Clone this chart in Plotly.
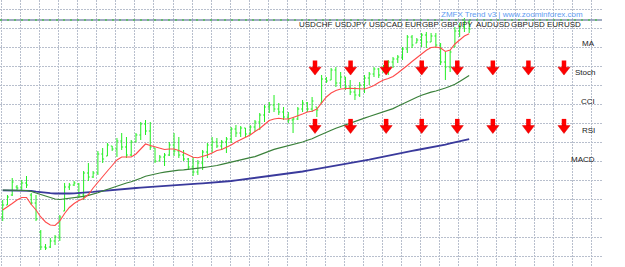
import numpy as np
import plotly.graph_objects as go

# ---------------- data (prices in points, price = BASE + v * POINT) ----------------
BASE = 1.2000
POINT = 0.0001

BAR_HIGH = [67,72,89,82,87,91,74,72,37,23,
            29,32,52,84,84,86,84,96,104,96,
            116,119,124,121,129,134,130,127,134,145,
            147,145,119,112,114,125,134,130,117,109,
            110,107,117,124,130,129,127,130,140,142,
            141,139,142,147,154,162,165,172,164,160,
            155,150,160,167,165,170,160,192,190,199,
            200,195,190,187,180,185,192,195,200,199,
            202,207,210,212,220,232,232,229,234,235,
            234,234,224,215,217,240,244,249,247]
BAR_LOW = [46,62,71,77,77,79,62,46,17,17,
           19,22,26,56,77,81,69,67,86,89,
           92,104,111,116,110,117,109,111,125,127,
           132,117,104,106,101,111,111,109,106,97,
           91,92,97,109,114,119,117,114,124,130,
           130,130,132,135,137,145,154,155,152,147,
           144,134,147,155,155,155,150,164,184,187,
           180,179,177,172,167,170,174,182,190,189,
           195,192,199,204,207,214,219,224,220,219,
           225,220,202,187,195,220,230,235,234]
BAR_OPEN = [50,62,72,80,79,84,72,64,35,20,
            20,26,30,56,80,82,83,72,94,90,
            94,113,111,121,118,126,120,112,125,132,
            143,136,119,106,110,112,122,116,112,108,
            100,95,104,115,122,125,121,125,128,138,
            134,139,133,140,145,152,160,162,158,155,
            150,147,148,158,164,158,160,164,188,187,
            197,184,190,180,175,172,182,189,193,198,
            195,200,205,208,210,218,230,224,227,232,
            225,231,222,205,200,220,236,240,246]
BAR_CLOSE = [62,70,85,79,84,82,64,48,20,19,
             26,30,50,80,82,84,72,94,90,94,
             113,108,122,118,126,120,112,125,132,143,
             136,120,106,110,112,122,116,112,108,100,
             95,104,115,122,125,121,125,128,138,134,
             139,133,140,145,152,160,162,158,155,150,
             147,148,158,164,158,166,157,188,186,197,
             184,190,180,175,172,182,189,193,198,192,
             200,205,208,210,218,230,222,227,232,225,
             231,222,205,200,215,236,240,246,238]

MA_FAST = [57,60,63.5,67,69.5,69.5,62.5,57,50,45,
           42,41.5,46,53.5,59.5,63.5,66.5,68.5,72.5,79,
           85,91,96,101.5,107,110,110,110,113,118.5,
           123,121.5,120,118.5,117.5,118,118,116.5,114.5,112,
           109.7,109.2,110.5,112,114,116.5,117.5,119.5,122,125,
           127.5,130,132,135.5,138.5,142.5,146.5,148,148.7,148,
           148,149.5,151,153,155,155.8,158,164,170,174,
           176.5,178,178.7,178.7,178.5,178,178,179.5,181.5,184.5,
           187,188.5,190.5,194,197.5,201.5,205.5,209.5,213,216.8,
           219.5,220,219,215.5,217,223,227,231,233.3]
MA_MID = [77,77,77,76.8,76.7,76.5,75.5,74,72.2,70.7,
          69.3,68,67.5,68,68.6,69.2,70,70.6,71.7,72.8,
          74.2,76,77.7,79.5,81.3,83,84,85.2,86.7,88.8,
          90.8,92,93,94,94.8,95.7,96.4,96.8,97.1,97.5,
          98.1,98.7,99.3,100,100.5,101.5,102.7,103.9,105.2,106.3,
          107.3,108.3,109.3,110.4,112.2,114.6,116.4,117.6,118.9,120,
          121.2,122.4,123.5,125,126.7,128.2,130.5,132.8,134.9,136.7,
          138.8,140.6,142.1,143.8,145.5,147.2,148.9,150.5,152.1,153.4,
          154.9,156.5,158.4,160.8,163.2,165.6,167.8,169.8,171.7,173.6,
          174.8,176,177.2,179,180.8,182.7,185.6,188.6,191.5]
MA_SLOW = [76.7,76.7,76.7,76.7,76.7,76.6,76.2,75.4,74.7,74.2,
           73.8,73.5,73.3,73.4,73.5,73.7,73.9,74.2,74.7,75.2,
           75.7,76.2,76.7,77,77.4,77.8,78.2,78.7,79,79.3,
           79.7,80,80.4,80.7,81,81.5,81.8,82.1,82.4,82.7,
           83,83.4,83.7,84,84.4,84.7,85,85.5,86,86.6,
           87.2,87.8,88.5,89.1,89.7,90.3,91,91.6,92.3,93,
           93.6,94.3,94.9,95.5,96.4,97.2,98,98.9,99.7,100.5,
           101.3,102.2,103,103.8,104.6,105.4,106.2,107.3,108.4,109.4,
           110.5,111.6,112.6,113.8,114.6,115.4,116.2,117,117.8,118.6,
           119.4,120.2,121.1,122.4,123.6,124.8,125.9,127,127.8]
PRICE_LINE = 247

PAIRS = ["USDCHF", "USDJPY", "USDCAD", "EURGBP", "GBPJPY", "AUDUSD", "GBPUSD", "EURUSD"]
INDICATORS = ["MA", "Stoch", "CCI", "RSI", "MACD"]
# 1 = down arrow, 0 = no signal shown
SIGNALS = {
    "MA":    [0, 0, 0, 0, 0, 0, 0, 0],
    "Stoch": [1, 1, 1, 1, 1, 1, 1, 1],
    "CCI":   [0, 0, 0, 0, 0, 0, 0, 0],
    "RSI":   [1, 1, 1, 1, 1, 1, 1, 1],
    "MACD":  [0, 0, 0, 0, 0, 0, 0, 0],
}
TITLE = "ZMFX Trend v3 | www.zoominforex.com"

# ---------------- figure ----------------
def px(v):
    return BASE + np.asarray(v, dtype=float) * POINT

n = len(BAR_HIGH)
idx = np.arange(n)

W, H = 625, 267
MR = 23
plot_w = W - MR
bar_px = 4.76
x0 = -0.567
x1 = x0 + plot_w / bar_px

fig = go.Figure()

bar_col = "#22ee22"
fig.add_trace(go.Ohlc(
    x=idx, open=px(BAR_OPEN), high=px(BAR_HIGH), low=px(BAR_LOW), close=px(BAR_CLOSE),
    increasing=dict(line=dict(color=bar_col, width=1)),
    decreasing=dict(line=dict(color=bar_col, width=1)),
    tickwidth=0.3, showlegend=False, hoverinfo="skip",
))
fig.add_trace(go.Scatter(x=idx, y=px(MA_SLOW), mode="lines",
                         line=dict(color="#3a3a9c", width=1.8), showlegend=False, hoverinfo="skip"))
fig.add_trace(go.Scatter(x=idx, y=px(MA_MID), mode="lines",
                         line=dict(color="#3a803a", width=1.2), showlegend=False, hoverinfo="skip"))
fig.add_trace(go.Scatter(x=idx, y=px(MA_FAST), mode="lines",
                         line=dict(color="#ff4a4a", width=1.1), showlegend=False, hoverinfo="skip"))

# overlay axes for the signal table: column index / row index
col_px0, col_step = 315.0, 35.57
row_px0, row_step = 43.0, 29.2
x2_range = [-col_px0 / col_step, (plot_w - col_px0) / col_step]
y2_range = [(H - row_px0) / row_step, -row_px0 / row_step]
pxr = 1.0 / row_step

ax_i, ay_i = [], []
for r, ind in enumerate(INDICATORS):
    for c, s in enumerate(SIGNALS[ind]):
        if s == 1:
            ax_i.append(c)
            ay_i.append(r)
ax_i = np.array(ax_i, dtype=float)
ay_i = np.array(ay_i, dtype=float)

fig.add_trace(go.Scatter(
    x=ax_i, y=ay_i - 7.5 * pxr, xaxis="x2", yaxis="y2", mode="markers",
    marker=dict(symbol="line-ns", size=6, line=dict(color="#ff0000", width=4.5)),
    showlegend=False, hoverinfo="skip"))
fig.add_trace(go.Scatter(
    x=ax_i, y=ay_i - 2.4 * pxr, xaxis="x2", yaxis="y2", mode="markers",
    marker=dict(symbol="triangle-down", size=10.5, color="#ff0000",
                line=dict(color="#d40000", width=0.5)),
    showlegend=False, hoverinfo="skip"))

annotations = []
for c, p in enumerate(PAIRS):
    annotations.append(dict(x=c, y=-0.65, xref="x2", yref="y2", text=p, showarrow=False,
                            xanchor="center", yanchor="middle",
                            font=dict(family="Liberation Sans", size=8, color="#1a1a1a")))
for r, ind in enumerate(INDICATORS):
    annotations.append(dict(x=7.93, y=r, xref="x2", yref="y2", text=ind, showarrow=False,
                            xanchor="right", yanchor="middle",
                            font=dict(family="Liberation Sans", size=8, color="#1a1a1a")))
annotations.append(dict(x=5.54, y=-0.976, xref="x2", yref="y2", text=TITLE, showarrow=False,
                        xanchor="center", yanchor="middle",
                        font=dict(family="Liberation Sans", size=8, color="#5f9cf2")))

shapes = [
    dict(type="line", xref="paper", yref="y", x0=0, x1=1, y0=px(PRICE_LINE), y1=px(PRICE_LINE),
         line=dict(color="#7f8fae", width=1.5), layer="above"),
    dict(type="line", xref="paper", yref="y", x0=0, x1=1, y0=px(PRICE_LINE), y1=px(PRICE_LINE),
         line=dict(color="#55c055", width=1.5, dash="2px,5px"), layer="above"),
]

grid_col = "#b8bfcd"
grid_tick0_y = px(267 - 9.3)
grid_dy = 19.05 * POINT

fig.update_layout(
    width=W, height=H,
    margin=dict(l=0, r=MR, t=0, b=0),
    paper_bgcolor="white", plot_bgcolor="white",
    showlegend=False,
    xaxis=dict(range=[x0, x1], tick0=-0.22, dtick=4, showticklabels=False, ticks="",
               showgrid=True, gridcolor=grid_col, griddash="2px,1px", gridwidth=1,
               zeroline=False, showline=False, rangeslider=dict(visible=False), fixedrange=True),
    yaxis=dict(range=[BASE, px(H)], tick0=grid_tick0_y, dtick=grid_dy, showticklabels=False, ticks="",
               showgrid=True, gridcolor=grid_col, griddash="2px,1px", gridwidth=1,
               zeroline=False, showline=False, fixedrange=True),
    xaxis2=dict(range=x2_range, overlaying="x", anchor="y2", visible=False, fixedrange=True),
    yaxis2=dict(range=y2_range, overlaying="y", anchor="x2", visible=False, fixedrange=True),
    annotations=annotations,
    shapes=shapes,
)

fig.write_html("out.html")
